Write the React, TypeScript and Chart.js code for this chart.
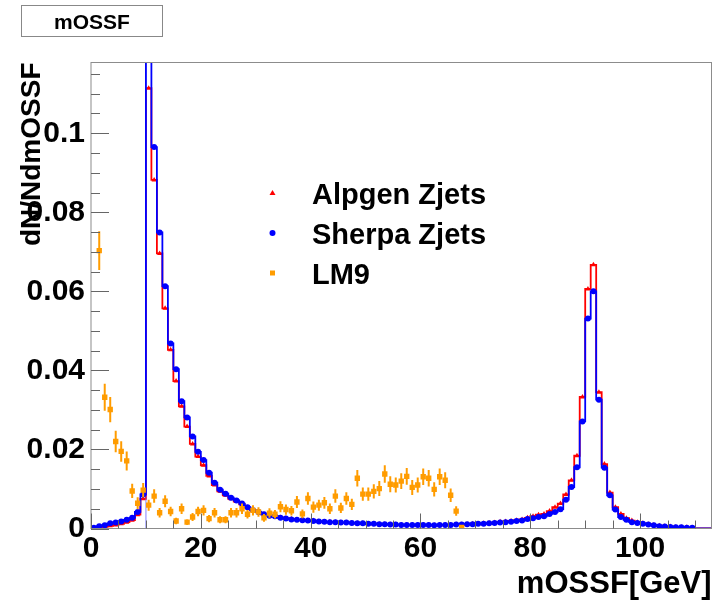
import React, { useEffect, useRef } from 'react';
import { Chart, registerables } from 'chart.js';

Chart.register(...registerables);

const FONT = "'Liberation Sans', Arial, Helvetica, sans-serif";

// ---------------- data ----------------
const histTitle = 'mOSSF';
const xTitle = 'mOSSF[GeV]';
const yTitle = 'dN/NdmOSSF';
const seriesNames = ['Alpgen Zjets', 'Sherpa Zjets', 'LM9'];

const binLowEdge = 0; // GeV
const binWidth = 1; // GeV
const xRange = [0, 113];
const yRange = [0, 0.1179];

const xTickValues = [0, 20, 40, 60, 80, 100];
const xTickLabels = ['0', '20', '40', '60', '80', '100'];
const yTickValues = [0, 0.02, 0.04, 0.06, 0.08, 0.1];
const yTickLabels = ['0', '0.02', '0.04', '0.06', '0.08', '0.1'];
const xMinorStep = 5;
const yMinorStep = 0.005;

const cutLineX = 10;

// Alpgen Zjets, bins of 1 GeV starting at 0
const alpgenValues = [
  0.0001, 0.0002, 0.0004, 0.0007, 0.0009, 0.0012, 0.0016, 0.0021, 0.0035, 0.0075,
  0.1114, 0.0882, 0.0696, 0.0557, 0.0452, 0.0373, 0.0309, 0.0258, 0.0214, 0.0182,
  0.0160, 0.0133, 0.0110, 0.0094, 0.0084, 0.0075, 0.0068, 0.0061, 0.0053, 0.0046,
  0.0042, 0.0036, 0.0033, 0.0031, 0.0028, 0.0026, 0.0024, 0.0022, 0.0022, 0.0020,
  0.0020, 0.0018, 0.0017, 0.0017, 0.0016, 0.0015, 0.0015, 0.0014, 0.0013, 0.0013,
  0.0012, 0.0012, 0.0011, 0.0011, 0.0010, 0.0010, 0.0009, 0.0009, 0.0009, 0.0008,
  0.0009, 0.0009, 0.0008, 0.0009, 0.0009, 0.0009, 0.0010, 0.0010, 0.0011, 0.0012,
  0.0012, 0.0013, 0.0014, 0.0015, 0.0017, 0.0018, 0.0019, 0.0021, 0.0023, 0.0027,
  0.0031, 0.0035, 0.0037, 0.0044, 0.0054, 0.0063, 0.0086, 0.0122, 0.0184, 0.0333,
  0.0606, 0.0667, 0.0345, 0.0163, 0.0091, 0.0054, 0.0037, 0.0026, 0.0020, 0.0016,
  0.0013, 0.0011, 0.0009, 0.0007, 0.0006, 0.0005, 0.0004, 0.0003, 0.0003, 0.0002,
  0, 0, 0,
];

// Sherpa Zjets
const sherpaValues = [
  0.0002, 0.0006, 0.0008, 0.0013, 0.0015, 0.0018, 0.0022, 0.0027, 0.0042, 0.0086,
  0.1300, 0.0965, 0.0749, 0.0613, 0.0468, 0.0403, 0.0322, 0.0281, 0.0233, 0.0194,
  0.0173, 0.0141, 0.0116, 0.0098, 0.0088, 0.0078, 0.0071, 0.0063, 0.0054, 0.0046,
  0.0042, 0.0036, 0.0032, 0.0031, 0.0027, 0.0025, 0.0023, 0.0022, 0.0021, 0.0020,
  0.0019, 0.0018, 0.0017, 0.0016, 0.0016, 0.0015, 0.0015, 0.0014, 0.0013, 0.0013,
  0.0012, 0.0012, 0.0011, 0.0011, 0.0010, 0.0010, 0.0009, 0.0009, 0.0009, 0.0009,
  0.0009, 0.0009, 0.0008, 0.0009, 0.0009, 0.0009, 0.0010, 0.0010, 0.0011, 0.0011,
  0.0012, 0.0012, 0.0013, 0.0014, 0.0015, 0.0016, 0.0017, 0.0019, 0.0020, 0.0024,
  0.0026, 0.0029, 0.0031, 0.0037, 0.0042, 0.0049, 0.0073, 0.0105, 0.0155, 0.0271,
  0.0531, 0.0600, 0.0326, 0.0154, 0.0084, 0.0048, 0.0029, 0.0022, 0.0016, 0.0014,
  0.0012, 0.0010, 0.0008, 0.0006, 0.0005, 0.0004, 0.0003, 0.0003, 0.0002, 0.0002,
  0, 0, 0,
];

// LM9 (markers with error bars)
const lm9Values = [
  null, 0.0703, 0.0332, 0.0301, 0.0220, 0.0195, 0.0171, 0.0095, 0.0064, 0.0097,
  0.0059, 0.0082, 0.0040, 0.0069, 0.0043, 0.0019, 0.0050, 0.0016, 0.0029, 0.0043,
  0.0046, 0.0025, 0.0040, 0.0022, 0.0022, 0.0040, 0.0040, 0.0050, 0.0036, 0.0046,
  0.0042, 0.0027, 0.0039, 0.0036, 0.0055, 0.0048, 0.0045, 0.0067, 0.0037, 0.0076,
  0.0054, 0.0059, 0.0065, 0.0050, 0.0082, 0.0052, 0.0076, 0.0061, 0.0127, 0.0087,
  0.0087, 0.0094, 0.0101, 0.0138, 0.0112, 0.0110, 0.0120, 0.0132, 0.0104, 0.0110,
  0.0131, 0.0127, 0.0099, 0.0131, 0.0122, 0.0084, 0.0044, 0.0003,
];
const lm9Errors = [
  null, 0.0049, 0.0034, 0.0032, 0.0027, 0.0026, 0.0024, 0.0018, 0.0015, 0.0018,
  0.0014, 0.0017, 0.0012, 0.0015, 0.0012, 0.0008, 0.0013, 0.0007, 0.0010, 0.0012,
  0.0013, 0.0009, 0.0012, 0.0009, 0.0009, 0.0012, 0.0012, 0.0013, 0.0011, 0.0013,
  0.0012, 0.0010, 0.0012, 0.0011, 0.0014, 0.0013, 0.0012, 0.0015, 0.0011, 0.0016,
  0.0014, 0.0014, 0.0015, 0.0013, 0.0017, 0.0013, 0.0016, 0.0014, 0.0021, 0.0017,
  0.0017, 0.0018, 0.0019, 0.0022, 0.0020, 0.0019, 0.0020, 0.0021, 0.0019, 0.0019,
  0.0021, 0.0021, 0.0018, 0.0021, 0.0020, 0.0017, 0.0012, 0.0003,
];

// ---------------- styles ----------------
const RED = '#ff0000';
const BLUE = '#0000ff';
const ORANGE = '#ff9c00';

const binCenter = (i: number) => binLowEdge + (i + 0.5) * binWidth;

function markerPoints(vals: (number | null)[]) {
  return vals.map((v, i) => ({ x: binCenter(i), y: v === null || v === 0 ? null : v }));
}
function stepPoints(vals: number[]) {
  const n = vals.length;
  return [
    { x: binLowEdge, y: vals[0] },
    ...vals.map((v, i) => ({ x: binCenter(i), y: v })),
    { x: binLowEdge + n * binWidth, y: vals[n - 1] },
  ];
}

function drawMarker(ctx: CanvasRenderingContext2D, style: string, x: number, y: number, color: string) {
  ctx.fillStyle = color;
  ctx.beginPath();
  if (style === 'triangle') {
    ctx.moveTo(x, y - 3);
    ctx.lineTo(x + 3, y + 2);
    ctx.lineTo(x - 3, y + 2);
    ctx.closePath();
  } else if (style === 'circle') {
    ctx.arc(x, y, 3, 0, Math.PI * 2);
  } else {
    ctx.rect(x - 2.5, y - 2.5, 5, 5);
  }
  ctx.fill();
}

const rootDecor = {
  id: 'rootDecor',
  afterDatasetsDraw(chart: any) {
    const { ctx, chartArea: a, scales } = chart;
    const x = scales.x;
    const y = scales.y;
    // LM9 error bars
    ctx.save();
    ctx.beginPath();
    ctx.rect(a.left, a.top, a.right - a.left, a.bottom - a.top);
    ctx.clip();
    ctx.strokeStyle = ORANGE;
    ctx.lineWidth = 2;
    lm9Values.forEach((v, i) => {
      const e = lm9Errors[i];
      if (v === null || e === null) return;
      const px = x.getPixelForValue(binCenter(i));
      ctx.beginPath();
      ctx.moveTo(px, y.getPixelForValue(v - e));
      ctx.lineTo(px, y.getPixelForValue(v + e));
      ctx.stroke();
    });
    ctx.restore();

    // frame
    ctx.save();
    ctx.strokeStyle = '#8c8c8c';
    ctx.lineWidth = 1;
    ctx.strokeRect(a.left, a.top, a.right - a.left, a.bottom - a.top);
    // inner ticks
    ctx.strokeStyle = '#666';
    for (let k = 0; k * xMinorStep <= xRange[1]; k++) {
      const v = k * xMinorStep;
      const major = xTickValues.includes(v);
      const px = Math.round(x.getPixelForValue(v)) + 0.5;
      ctx.beginPath();
      ctx.moveTo(px, a.bottom);
      ctx.lineTo(px, a.bottom - (major ? 15 : 8));
      ctx.stroke();
    }
    for (let k = 0; k * yMinorStep <= yRange[1] + 1e-9; k++) {
      const v = k * yMinorStep;
      const major = k % 4 === 0;
      const py = Math.round(y.getPixelForValue(v)) + 0.5;
      ctx.beginPath();
      ctx.moveTo(a.left, py);
      ctx.lineTo(a.left + (major ? 18 : 9), py);
      ctx.stroke();
    }
    ctx.restore();
  },
  afterDraw(chart: any) {
    const { ctx } = chart;
    ctx.save();
    // title box
    ctx.fillStyle = '#ffffff';
    ctx.fillRect(21, 5, 141, 31);
    ctx.strokeStyle = '#888';
    ctx.lineWidth = 1;
    ctx.strokeRect(21.5, 5.5, 141, 31);
    ctx.fillStyle = '#000';
    ctx.font = `bold 21px ${FONT}`;
    ctx.textAlign = 'center';
    ctx.textBaseline = 'alphabetic';
    ctx.fillText(histTitle, 92, 29);

    // legend
    const styles = ['triangle', 'circle', 'rect'];
    const colors = [RED, BLUE, ORANGE];
    ctx.font = `bold 29px ${FONT}`;
    ctx.textAlign = 'left';
    seriesNames.forEach((name, i) => {
      const ly = 193 + i * 40;
      drawMarker(ctx, styles[i], 272.5, ly, colors[i]);
      ctx.fillStyle = '#000';
      ctx.fillText(name, 312, ly + 11);
    });
    ctx.restore();
  },
};

export default function App() {
  const ref = useRef<HTMLCanvasElement>(null);
  useEffect(() => {
    const canvas = ref.current;
    if (!canvas) return;
    const chart = new Chart(canvas, {
      type: 'line',
      data: {
        datasets: [
          {
            label: seriesNames[2],
            data: markerPoints(lm9Values),
            showLine: false,
            pointStyle: 'rect',
            pointRadius: 3.8,
            pointBackgroundColor: ORANGE,
            pointBorderWidth: 0,
            borderColor: ORANGE,
            order: 0,
          },
          {
            label: seriesNames[1] + ' markers',
            data: markerPoints(sherpaValues),
            showLine: false,
            pointStyle: 'circle',
            pointRadius: 3,
            pointBackgroundColor: BLUE,
            pointBorderWidth: 0,
            borderColor: BLUE,
            order: 1,
          },
          {
            label: seriesNames[1],
            data: stepPoints(sherpaValues),
            stepped: 'middle',
            borderColor: BLUE,
            borderWidth: 1.8,
            pointRadius: 0,
            fill: false,
            order: 2,
          },
          {
            label: 'cut',
            data: [
              { x: cutLineX, y: yRange[0] },
              { x: cutLineX, y: yRange[1] },
            ],
            borderColor: 'rgba(90,90,255,0.5)',
            borderWidth: 1.5,
            pointRadius: 0,
            order: 3,
          },
          {
            label: seriesNames[0] + ' markers',
            data: markerPoints(alpgenValues),
            showLine: false,
            pointStyle: 'triangle',
            pointRadius: 3,
            pointBackgroundColor: RED,
            pointBorderWidth: 0,
            borderColor: RED,
            order: 4,
          },
          {
            label: seriesNames[0],
            data: stepPoints(alpgenValues),
            stepped: 'middle',
            borderColor: RED,
            borderWidth: 1.8,
            pointRadius: 0,
            fill: false,
            order: 5,
          },
        ],
      },
      options: {
        responsive: false,
        animation: false,
        events: [],
        layout: { padding: { left: 0, top: 62.5, right: 14.5, bottom: 0 } },
        plugins: { legend: { display: false }, tooltip: { enabled: false }, title: { display: false } },
        scales: {
          x: {
            type: 'linear',
            min: xRange[0],
            max: xRange[1],
            grid: { display: false, drawTicks: false, tickLength: 0 },
            border: { display: false },
            afterBuildTicks: (s: any) => {
              s.ticks = xTickValues.map((v) => ({ value: v }));
            },
            afterFit: (s: any) => {
              s.height = 75.5;
            },
            ticks: {
              autoSkip: false,
              maxRotation: 0,
              padding: 2,
              color: '#000',
              font: { family: FONT, size: 30, weight: 'bold', lineHeight: 1.2 },
              callback: (v: any) => {
                const i = xTickValues.indexOf(Number(v));
                return i >= 0 ? xTickLabels[i] : '';
              },
            },
            title: {
              display: true,
              text: xTitle,
              align: 'end',
              color: '#000',
              font: { family: FONT, size: 31, weight: 'bold', lineHeight: 1 },
              padding: { top: 0, bottom: 4 },
            },
          },
          y: {
            type: 'linear',
            min: yRange[0],
            max: yRange[1],
            grid: { display: false, drawTicks: false, tickLength: 0 },
            border: { display: false },
            afterBuildTicks: (s: any) => {
              s.ticks = yTickValues.map((v) => ({ value: v }));
            },
            afterFit: (s: any) => {
              s.width = 91;
            },
            ticks: {
              autoSkip: false,
              padding: 6,
              color: '#000',
              font: { family: FONT, size: 30, weight: 'bold', lineHeight: 1.2 },
              callback: (v: any) => {
                const i = yTickValues.findIndex((t) => Math.abs(t - Number(v)) < 1e-9);
                return i >= 0 ? yTickLabels[i] : '';
              },
            },
            title: {
              display: true,
              text: yTitle,
              align: 'end',
              color: '#000',
              font: { family: FONT, size: 28, weight: 'bold', lineHeight: 1 },
              padding: { top: 18, bottom: 0 },
            },
          },
        },
      } as any,
      plugins: [rootDecor],
    } as any);
    return () => chart.destroy();
  }, []);

  return (
    <div style={{ position: 'fixed', left: 0, top: 0, width: 726, height: 604, background: '#fff' }}>
      <canvas ref={ref} width={726} height={604} style={{ display: 'block', width: 726, height: 604 }} />
    </div>
  );
}
